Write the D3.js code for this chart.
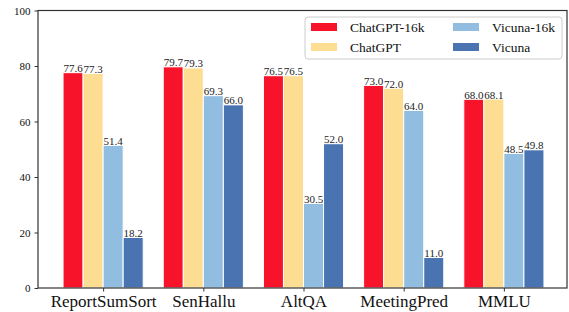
<!DOCTYPE html>
<html>
<head>
<meta charset="utf-8">
<script src="https://cdn.jsdelivr.net/npm/d3@7"></script>
<style>
  body { margin: 0; background: #fff; }
  svg { display: block; font-family: "Liberation Serif", "DejaVu Serif", serif; }
</style>
</head>
<body>
<svg id="chart"></svg>
<script>
// data
const tasks = ["ReportSumSort", "SenHallu", "AltQA", "MeetingPred", "MMLU"];
const models = ["ChatGPT-16k", "ChatGPT", "Vicuna-16k", "Vicuna"];
const chatgpt16k = [77.6, 79.7, 76.5, 73.0, 68.0];
const chatgpt = [77.3, 79.3, 76.5, 72.0, 68.1];
const vicuna16k = [51.4, 69.3, 30.5, 64.0, 48.5];
const vicuna = [18.2, 66.0, 52.0, 11.0, 49.8];
const yTicks = [0, 20, 40, 60, 80, 100];

const series = [chatgpt16k, chatgpt, vicuna16k, vicuna];
const colors = ["#f7132a", "#fddd91", "#90bde0", "#4a74b1"];

let width = 569,
    height = 312,
    plotLeft = 38,
    plotRight = 567,
    plotTop = 10.5,
    plotBottom = 288,
    barW = 0.2;

let svg = d3.select("#chart").attr("width", width).attr("height", height);

let x = d3.scaleLinear().domain([-0.65, 4.63]).range([plotLeft, plotRight]);
let y = d3.scaleLinear().domain([0, 100]).range([plotBottom, plotTop]);

// bars
series.forEach(function (vals, s) {
    let g = svg.append("g");
    g.selectAll("rect")
        .data(vals)
        .enter().append("rect")
        .attr("x", function (d, i) { return x(i + (s - 2) * barW); })
        .attr("y", function (d) { return y(d); })
        .attr("width", x(barW) - x(0))
        .attr("height", function (d) { return y(0) - y(d); })
        .attr("fill", colors[s])
        .attr("stroke", "#fff")
        .attr("stroke-width", 1);

    g.selectAll("text")
        .data(vals)
        .enter().append("text")
        .attr("x", function (d, i) { return x(i + (s - 1.5) * barW); })
        .attr("y", function (d) { return y(d) - 0.5; })
        .attr("text-anchor", "middle")
        .attr("font-size", 11)
        .attr("fill", "#222")
        .text(function (d) { return d.toFixed(1); });
});

// axes
let yAxis = d3.axisLeft(y).tickValues(yTicks).tickSize(3.5).tickPadding(4);
let gy = svg.append("g").attr("transform", "translate(" + plotLeft + ",0)").call(yAxis);
gy.selectAll("text").attr("font-size", 11).attr("font-family", "Liberation Serif").attr("fill", "#111");

let xAxis = d3.axisBottom(x).tickValues(d3.range(tasks.length))
    .tickFormat(function (d) { return tasks[d]; }).tickSize(3.5).tickPadding(3);
let gx = svg.append("g").attr("transform", "translate(0," + plotBottom + ")").call(xAxis);
gx.selectAll("text").attr("font-size", 17).attr("font-family", "Liberation Serif").attr("fill", "#111");

svg.selectAll(".domain").remove();
svg.selectAll(".tick line").attr("stroke", "#333");

// frame
svg.append("rect")
    .attr("x", plotLeft).attr("y", plotTop)
    .attr("width", plotRight - plotLeft).attr("height", plotBottom - plotTop)
    .attr("fill", "none").attr("stroke", "#333").attr("stroke-width", 1.2);

// legend
let lg = svg.append("g");
lg.append("rect")
    .attr("x", 305).attr("y", 17).attr("width", 257).attr("height", 42)
    .attr("rx", 3).attr("fill", "#fff").attr("fill-opacity", 0.8)
    .attr("stroke", "#ccc").attr("stroke-width", 1);

models.forEach(function (m, i) {
    let col = Math.floor(i / 2), row = i % 2;
    let lx = 311 + col * 142, ly = 27 + row * 20;
    lg.append("rect")
        .attr("x", lx).attr("y", ly - 4).attr("width", 26).attr("height", 8)
        .attr("fill", colors[i]);
    lg.append("text")
        .attr("x", lx + 39).attr("y", ly + 4.5)
        .attr("font-size", 13.5)
        .attr("fill", "#111")
        .text(m);
});
</script>
</body>
</html>
